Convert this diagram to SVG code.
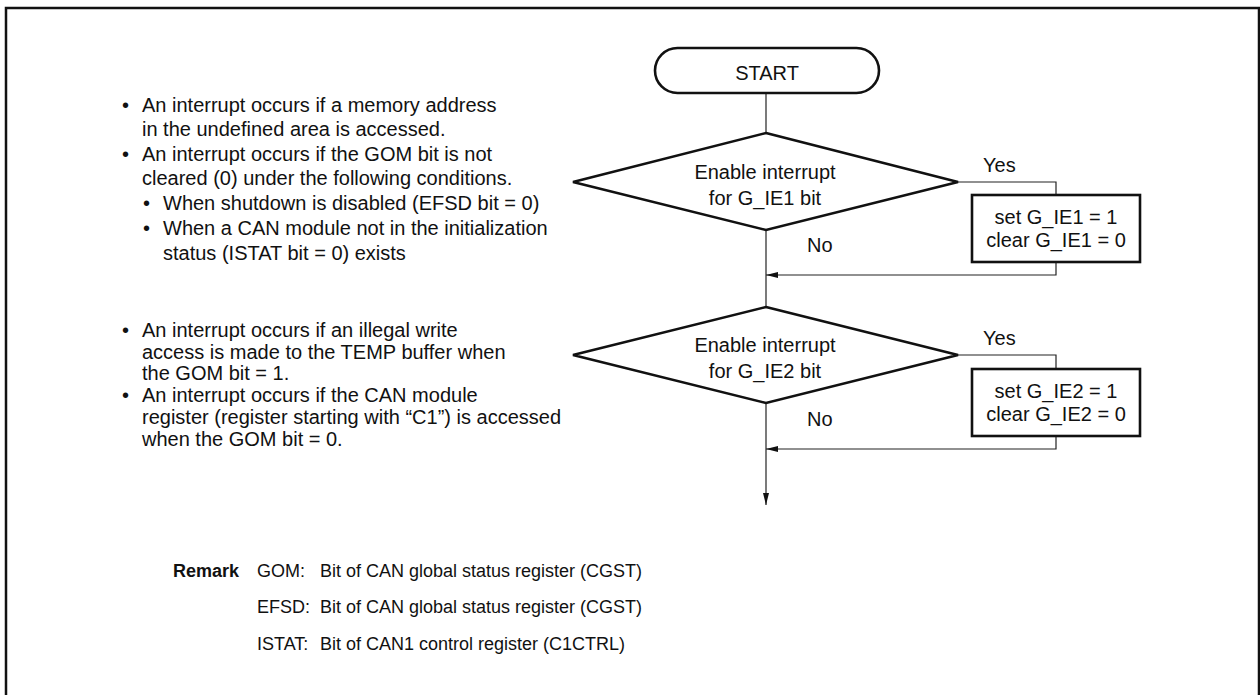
<svg xmlns="http://www.w3.org/2000/svg" width="1260" height="695" viewBox="0 0 1260 695">
<defs>
<style>
text{font-family:"Liberation Sans",Arial,sans-serif;fill:#111;}
.t{font-size:20px;}
.c{text-anchor:middle;}
.r{font-size:18px;}
.b{font-weight:bold;}
.shape{fill:#fff;stroke:#111;stroke-width:2.6;}
.conn{fill:none;stroke:#222;stroke-width:1.2;}
</style>
<marker id="ah" viewBox="0 0 12 6" refX="12" refY="3" markerWidth="12" markerHeight="6" markerUnits="userSpaceOnUse" orient="auto">
<path d="M0,0 L12,3 L0,6 Z" fill="#111"/>
</marker>
</defs>
<rect x="6" y="8" width="1253" height="700" fill="#fff" stroke="#111" stroke-width="2.5"/>

<g id="connectors">
<line class="conn" x1="766" y1="93" x2="766" y2="133"/>
<line class="conn" x1="766" y1="230" x2="766" y2="307"/>
<line class="conn" x1="766" y1="403" x2="766" y2="505" marker-end="url(#ah)"/>
<polyline class="conn" points="958,182 1056,182 1056,195"/>
<polyline class="conn" points="1056,262 1056,275 766,275" marker-end="url(#ah)"/>
<polyline class="conn" points="958,355 1056,355 1056,369"/>
<polyline class="conn" points="1056,436 1056,449 766,449" marker-end="url(#ah)"/>
<text class="t" x="983" y="172">Yes</text>
<text class="t" x="807" y="252">No</text>
<text class="t" x="983" y="345">Yes</text>
<text class="t" x="807" y="426">No</text>
</g>

<g id="start">
<rect class="shape" x="655" y="48" width="224" height="45" rx="22.5" ry="22.5" stroke-width="2"/>
<text class="t c" x="767" y="80">START</text>
</g>

<g id="decision1">
<polygon class="shape" points="766,133 958,182 766,230 573,182"/>
<text class="t c" x="765" y="179">Enable interrupt</text>
<text class="t c" x="765" y="205">for G_IE1 bit</text>
</g>

<g id="process1">
<rect class="shape" x="972" y="195" width="168" height="67"/>
<text class="t c" x="1056" y="224">set G_IE1 = 1</text>
<text class="t c" x="1056" y="247">clear G_IE1 = 0</text>
</g>

<g id="decision2">
<polygon class="shape" points="766,307 958,355 766,403 573,355"/>
<text class="t c" x="765" y="352">Enable interrupt</text>
<text class="t c" x="765" y="378">for G_IE2 bit</text>
</g>

<g id="process2">
<rect class="shape" x="972" y="369" width="168" height="67"/>
<text class="t c" x="1056" y="398">set G_IE2 = 1</text>
<text class="t c" x="1056" y="421">clear G_IE2 = 0</text>
</g>

<g id="notes1">
<text class="t" x="122" y="112">•</text>
<text class="t" x="142" y="112">An interrupt occurs if a memory address</text>
<text class="t" x="142" y="136">in the undefined area is accessed.</text>
<text class="t" x="122" y="161">•</text>
<text class="t" x="142" y="161">An interrupt occurs if the GOM bit is not</text>
<text class="t" x="142" y="185">cleared (0) under the following conditions.</text>
<text class="t" x="143" y="210">•</text>
<text class="t" x="163" y="210">When shutdown is disabled (EFSD bit = 0)</text>
<text class="t" x="143" y="235">•</text>
<text class="t" x="163" y="235">When a CAN module not in the initialization</text>
<text class="t" x="163" y="260">status (ISTAT bit = 0) exists</text>
</g>

<g id="notes2">
<text class="t" x="122" y="337">•</text>
<text class="t" x="142" y="337">An interrupt occurs if an illegal write</text>
<text class="t" x="142" y="359">access is made to the TEMP buffer when</text>
<text class="t" x="142" y="380">the GOM bit = 1.</text>
<text class="t" x="122" y="402">•</text>
<text class="t" x="142" y="402">An interrupt occurs if the CAN module</text>
<text class="t" x="142" y="424">register (register starting with “C1”) is accessed</text>
<text class="t" x="142" y="446">when the GOM bit = 0.</text>
</g>

<g id="remark">
<text class="r b" x="173" y="577">Remark</text>
<text class="r" x="257" y="577">GOM:</text>
<text class="r" x="320" y="577">Bit of CAN global status register (CGST)</text>
<text class="r" x="257" y="613">EFSD:</text>
<text class="r" x="320" y="613">Bit of CAN global status register (CGST)</text>
<text class="r" x="257" y="650">ISTAT:</text>
<text class="r" x="320" y="650">Bit of CAN1 control register (C1CTRL)</text>
</g>
</svg>
